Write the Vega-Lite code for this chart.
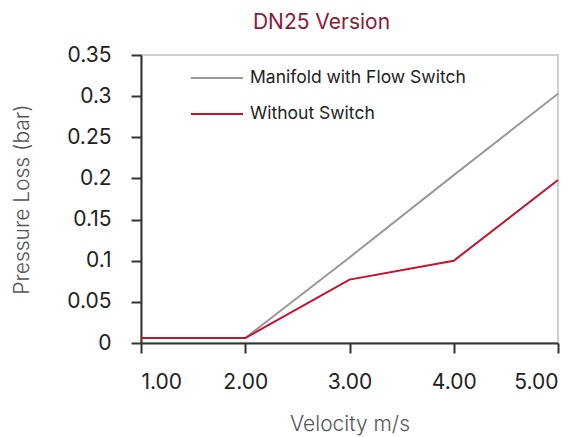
{
  "$schema": "https://vega.github.io/schema/vega-lite/v6.json",
  "width": 417,
  "height": 288,
  "autosize": "none",
  "padding": {"left": 141, "top": 55, "right": 25, "bottom": 94},
  "title": {"text": "DN25 Version", "color": "#8B1A35", "fontSize": 21, "font": "Inter", "fontWeight": "normal", "offset": 11, "dx": -28},
  "config": {
    "view": {"stroke": "#d0d0d0", "strokeWidth": 2},
    "font": "Inter"
  },
  "data": {
    "values": [
      {"v": 1, "loss": 0.006, "series": "Manifold with Flow Switch"},
      {"v": 2, "loss": 0.006, "series": "Manifold with Flow Switch"},
      {"v": 3, "loss": 0.104, "series": "Manifold with Flow Switch"},
      {"v": 4, "loss": 0.204, "series": "Manifold with Flow Switch"},
      {"v": 5, "loss": 0.303, "series": "Manifold with Flow Switch"},
      {"v": 1, "loss": 0.006, "series": "Without Switch"},
      {"v": 2, "loss": 0.006, "series": "Without Switch"},
      {"v": 3, "loss": 0.077, "series": "Without Switch"},
      {"v": 4, "loss": 0.1, "series": "Without Switch"},
      {"v": 5, "loss": 0.198, "series": "Without Switch"}
    ]
  },
  "mark": {"type": "line", "strokeWidth": 2},
  "encoding": {
    "x": {
      "field": "v", "type": "quantitative",
      "scale": {"domain": [1, 5], "nice": false, "zero": false},
      "axis": {
        "title": "Velocity m/s", "values": [1, 2, 3, 4, 5], "format": ".2f",
        "grid": false, "domainColor": "#333", "domainWidth": 2, "tickColor": "#333", "tickWidth": 2, "tickSize": 10,
        "labelFontSize": 21, "labelColor": "#222", "labelPadding": 18,
        "titleFontSize": 21, "titleFontWeight": 300, "titleColor": "#555", "titleY": 70, "titleBaseline": "top"
      }
    },
    "y": {
      "field": "loss", "type": "quantitative",
      "scale": {"domain": [0, 0.35], "nice": false},
      "axis": {
        "title": "Pressure Loss (bar)", "values": [0, 0.05, 0.1, 0.15, 0.2, 0.25, 0.3, 0.35], "format": "~g",
        "grid": false, "domainColor": "#333", "domainWidth": 2, "tickColor": "#333", "tickWidth": 2, "tickSize": 10,
        "labelFontSize": 21, "labelColor": "#222", "labelPadding": 20,
        "titleFontSize": 21, "titleFontWeight": 300, "titleColor": "#555", "titleX": -109
      }
    },
    "color": {
      "field": "series", "type": "nominal",
      "scale": {"domain": ["Manifold with Flow Switch", "Without Switch"], "range": ["#999999", "#C8102E"]},
      "legend": {
        "title": null, "orient": "none", "legendX": 49, "legendY": -4,
        "symbolType": "stroke", "symbolSize": 2704, "symbolStrokeWidth": 2,
        "labelFontSize": 17.5, "labelColor": "#222", "rowPadding": -11, "labelOffset": 6, "labelLimit": 400
      }
    }
  }
}
